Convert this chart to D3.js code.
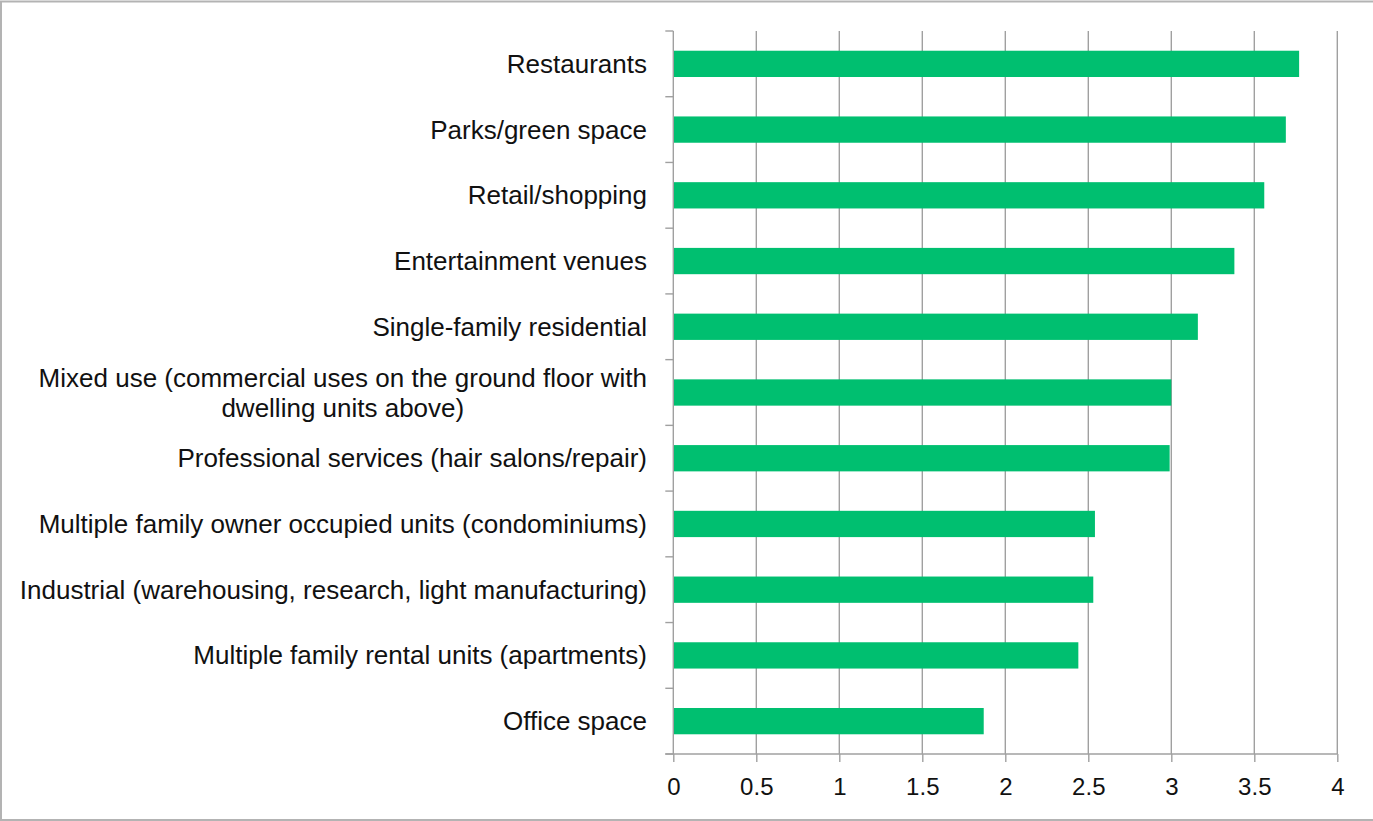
<!DOCTYPE html>
<html>
<head>
<meta charset="utf-8">
<script src="https://cdn.jsdelivr.net/npm/d3@7"></script>
<style>
  html, body { margin: 0; padding: 0; background: #fff; }
  svg { display: block; }
  text { font-family: "Liberation Sans", Arial, sans-serif; fill: #111; }
</style>
</head>
<body>
<svg id="chart" width="1373" height="821"></svg>
<script>
// Land-use categories, top to bottom, with their mean ratings
const categories = [
  "Restaurants",
  "Parks/green space",
  "Retail/shopping",
  "Entertainment venues",
  "Single-family residential",
  "Mixed use (commercial uses on the ground floor with dwelling units above)",
  "Professional services (hair salons/repair)",
  "Multiple family owner occupied units (condominiums)",
  "Industrial (warehousing, research, light manufacturing)",
  "Multiple family rental units (apartments)",
  "Office space"
];
const ratings = [3.77, 3.69, 3.56, 3.38, 3.16, 3.00, 2.99, 2.54, 2.53, 2.44, 1.87];
const xTicks = [0, 0.5, 1, 1.5, 2, 2.5, 3, 3.5, 4];

const W = 1373, H = 821;
const plot = { left: 673.3, right: 1337.3, top: 31, bottom: 754 };
const barColor = "#00bf70";
const lineColor = "#a0a0a0";

const svg = d3.select("#chart");

// outer frame
svg.append("rect")
  .attr("x", 1).attr("y", 1.5)
  .attr("width", W + 10).attr("height", H - 2.5)
  .attr("fill", "none")
  .attr("stroke", "#b3b3b3")
  .attr("stroke-width", 2);

const x = d3.scaleLinear().domain([0, 4]).range([plot.left, plot.right]);
const y = d3.scaleBand()
  .domain(categories)
  .range([plot.top, plot.bottom])
  .paddingInner(0.6)
  .paddingOuter(0.3);

// vertical gridlines
svg.append("g").selectAll("line")
  .data(xTicks.slice(1))
  .join("line")
  .attr("x1", d => x(d)).attr("x2", d => x(d))
  .attr("y1", plot.top).attr("y2", plot.bottom)
  .attr("stroke", lineColor)
  .attr("stroke-width", 1.4);

// bars
svg.append("g").selectAll("rect")
  .data(categories)
  .join("rect")
  .attr("x", x(0))
  .attr("y", d => y(d))
  .attr("width", (d, i) => x(ratings[i]) - x(0))
  .attr("height", y.bandwidth())
  .attr("fill", barColor);

// bottom axis
const xAxis = d3.axisBottom(x)
  .tickValues(xTicks)
  .tickSize(8)
  .tickSizeOuter(0)
  .tickPadding(16)
  .tickFormat(d3.format("~g"));

const gx = svg.append("g")
  .attr("transform", `translate(0,${plot.bottom})`)
  .call(xAxis);
gx.select(".domain").remove();
gx.append("line")
  .attr("x1", plot.left - 8).attr("x2", plot.right)
  .attr("stroke", lineColor).attr("stroke-width", 1.4);
gx.selectAll(".tick line").attr("stroke", lineColor).attr("stroke-width", 1.4);
gx.selectAll(".tick text")
  .style("font-family", "'Liberation Sans', Arial, sans-serif")
  .style("font-size", "24px")
  .attr("fill", "#111");

// left axis: line plus ticks on category boundaries
const gy = svg.append("g");
gy.append("line")
  .attr("x1", plot.left).attr("x2", plot.left)
  .attr("y1", plot.top).attr("y2", plot.bottom)
  .attr("stroke", lineColor).attr("stroke-width", 1.4);
const step = y.step();
gy.selectAll("line.bt")
  .data(d3.range(categories.length + 1))
  .join("line")
  .attr("class", "bt")
  .attr("x1", plot.left - 8).attr("x2", plot.left)
  .attr("y1", i => plot.top + i * step)
  .attr("y2", i => plot.top + i * step)
  .attr("stroke", lineColor).attr("stroke-width", 1.4);

// category labels, wrapped and centred against each other
const labelRight = 647;
const wrapWidth = 640;
const lineHeight = 30;
const labels = svg.append("g")
  .style("font-size", "26px");

categories.forEach(cat => {
  const cy = y(cat) + y.bandwidth() / 2;
  const t = labels.append("text").attr("text-anchor", "middle");
  // greedy wrap
  const words = cat.split(" ");
  const lines = [];
  let cur = [];
  const probe = labels.append("text");
  words.forEach(w => {
    const trial = cur.concat([w]).join(" ");
    probe.text(trial);
    if (cur.length && probe.node().getComputedTextLength() > wrapWidth) {
      lines.push(cur.join(" "));
      cur = [w];
    } else {
      cur.push(w);
    }
  });
  lines.push(cur.join(" "));
  let maxW = 0;
  lines.forEach(l => {
    probe.text(l);
    maxW = Math.max(maxW, probe.node().getComputedTextLength());
  });
  probe.remove();
  const cx = labelRight - maxW / 2;
  const firstBaseline = cy + 9 - (lines.length - 1) * lineHeight / 2;
  lines.forEach((l, i) => {
    t.append("tspan")
      .attr("x", cx)
      .attr("y", firstBaseline + i * lineHeight)
      .text(l);
  });
});
</script>
</body>
</html>
